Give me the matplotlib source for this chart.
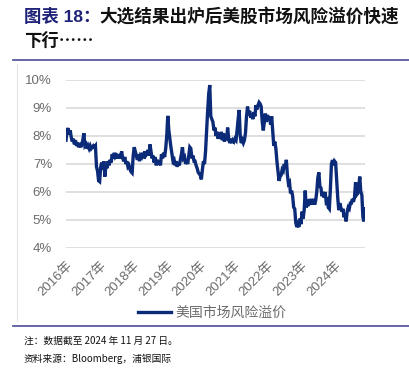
import numpy as np
import pandas as pd
import matplotlib
matplotlib.use("Agg")
import matplotlib.pyplot as plt
from matplotlib.lines import Line2D

plt.rcParams['font.family'] = ['Liberation Sans', 'Noto Sans CJK SC', 'DejaVu Sans']

# -----------------------------------------------------------------------------
# Data: US equity risk premium (%), evenly spaced per year
# -----------------------------------------------------------------------------

erp_2016 = [7.85, 8.2, 8.28, 8.05, 8.2, 7.95, 7.8, 7.9, 7.7, 7.85, 7.65, 7.75,
            7.6, 7.75, 7.6, 7.7, 7.85, 8.1, 7.65, 7.7, 7.55, 7.65, 7.55, 7.65,
            7.55, 7.6, 7.65, 7.6, 7.65, 6.9, 6.75, 6.4]
erp_2017 = [6.37, 6.9, 7.05, 6.8, 7.1, 6.55, 6.95, 6.85, 7.1, 6.95, 7.15, 7.05,
            7.35, 7.2, 7.4, 7.25, 7.3, 7.2, 7.35, 7.2, 7.3, 7.45, 7.2, 7.1,
            7.25, 7.0, 7.1, 6.9, 6.95, 6.8, 6.72, 6.68]
erp_2018 = [7.3, 7.6, 7.45, 7.3, 7.15, 7.35, 7.1, 7.3, 7.25, 7.4, 7.2, 7.45,
            7.3, 7.35, 7.5, 7.3, 7.7, 7.45, 7.2, 7.3, 7.05, 7.25, 6.95, 7.15,
            7.0, 7.1, 6.95, 7.35, 7.2, 7.4, 7.25, 7.55]
erp_2019 = [8.0, 8.72, 8.2, 7.9, 7.6, 7.35, 7.1, 7.15, 6.95, 7.1, 6.9, 7.05,
            6.95, 7.15, 7.35, 7.6, 7.2, 7.25, 7.0, 7.15, 7.0, 7.3, 7.6, 7.55,
            7.2, 7.3, 7.1, 7.1, 6.95, 6.85, 6.7, 6.65]
erp_2020 = [6.6, 6.45, 6.8, 7.1, 7.0, 7.45, 8.2, 8.9, 9.5, 9.82, 8.7, 8.6,
            8.5, 8.2, 8.3, 8.0, 8.15, 7.9, 8.1, 7.9, 8.15, 7.85, 8.1, 7.8,
            8.05, 7.85, 8.3, 7.9, 7.75, 7.9, 7.75, 7.85]
erp_2021 = [7.8, 7.9, 7.85, 8.2, 8.6, 8.93, 8.0, 7.75, 7.85, 7.75, 7.85, 8.1,
            8.7, 9.05, 8.75, 8.9, 8.65, 8.8, 8.6, 8.85, 8.7, 9.1, 8.95, 9.1,
            9.2, 9.15, 9.05, 8.5, 8.2, 8.5, 8.8, 8.5]
erp_2022 = [8.75, 8.6, 8.7, 8.4, 8.7, 8.15, 7.65, 7.8, 7.55, 7.1, 6.75, 6.4,
            6.55, 6.6, 6.8, 6.75, 7.0, 6.85, 7.15, 6.6, 6.3, 6.35, 5.95, 6.05,
            5.85, 5.45, 5.4, 4.9, 4.75, 4.85, 4.75, 5.05]
erp_2023 = [4.85, 5.3, 5.05, 5.35, 6.05, 5.45, 5.6, 5.5, 5.75, 5.55, 5.75, 5.55,
            5.75, 5.55, 5.7, 6.0, 6.5, 6.7, 6.2, 6.15, 5.85, 6.0, 5.8, 6.0,
            5.65, 5.7, 5.45, 5.4, 6.1, 7.0, 7.14, 6.95]
erp_2024 = [7.1, 7.05, 6.4, 5.8, 5.35, 5.6, 5.45, 5.3, 5.4, 5.1, 5.2, 4.95,
            5.3, 5.45, 5.4, 5.6, 5.6, 5.75, 5.65, 5.8, 6.35, 5.9, 5.95, 6.15,
            6.55, 6.0, 5.9, 5.1, 4.95, 5.4]

years = [2016, 2017, 2018, 2019, 2020, 2021, 2022, 2023, 2024]
series_by_year = [erp_2016, erp_2017, erp_2018, erp_2019, erp_2020,
                  erp_2021, erp_2022, erp_2023, erp_2024]
last_date = '2024-11-27'

y_ticks = [4, 5, 6, 7, 8, 9, 10]
series_name = '美国市场风险溢价'
title_head = '图表 18：'
title_line1 = '大选结果出炉后美股市场风险溢价快速'
title_line2 = '下行……'
note_text = '注：数据截至 2024 年 11 月 27 日。'
source_text = '资料来源：Bloomberg，浦银国际'


def year_dates(year, n, end=None):
    start = pd.Timestamp(f'{year}-01-01')
    if end is None:
        stop = pd.Timestamp(f'{year + 1}-01-01')
        vals = np.linspace(start.value, stop.value, n, endpoint=False)
    else:
        stop = pd.Timestamp(end)
        vals = np.linspace(start.value, stop.value, n)
    return pd.to_datetime(vals.astype('int64'))


dates = []
values = []
for yr, vals in zip(years, series_by_year):
    end = last_date if yr == years[-1] else None
    dates.extend(year_dates(yr, len(vals), end))
    values.extend(vals)

# -----------------------------------------------------------------------------
# Figure
# -----------------------------------------------------------------------------

W, H = 409, 368
fig = plt.figure(figsize=(W / 100, H / 100), dpi=100)


def fx(px):
    return px / W


def fy(py):
    return 1 - py / H


navy = '#1F2378'
line_color = '#0B2A78'
grid_color = '#D9D9D9'
label_gray = '#6B6B6B'

# title
fig.text(fx(24), fy(17), title_head, color=navy, fontsize=12.5, fontweight='bold',
         family=['Liberation Sans', 'Noto Sans CJK SC'], va='center', ha='left')
fig.text(fx(99), fy(17), title_line1, color='#111111', fontsize=12.7, fontweight='bold',
         family=['Noto Sans CJK SC'], va='center', ha='left')
fig.text(fx(24), fy(42), title_line2, color='#111111', fontsize=12.5, fontweight='bold',
         family=['Noto Sans CJK SC'], va='center', ha='left')

# separators
fig.add_artist(Line2D([fx(13), fx(409)], [fy(60), fy(60)], color='#5B5BA0', lw=1.3))
fig.add_artist(Line2D([fx(13), fx(409)], [fy(326), fy(326)], color='#5B5BA0', lw=1.3))
fig.add_artist(Line2D([fx(17), fx(17)], [fy(64), fy(321)], color='#E6E6E6', lw=0.8))

# plot area
ax = fig.add_axes([fx(66), fy(248), fx(365) - fx(66), fy(80) - fy(248)])
ax.plot(dates, values, color=line_color, lw=2.4, solid_joinstyle='miter',
        label=series_name)

ax.set_ylim(4, 10)
ax.set_xlim(pd.Timestamp('2016-01-01'), pd.Timestamp(last_date))
ax.set_yticks(y_ticks)
ax.set_yticklabels([f'{v}%' for v in y_ticks])
ax.set_xticks([pd.Timestamp(f'{y}-01-01') for y in years])
ax.set_xticklabels([f'{y}年' for y in years], rotation=45, ha='right',
                   va='top', rotation_mode='anchor')
ax.grid(axis='y', color=grid_color, lw=1.2)
ax.set_axisbelow(True)
for s in ax.spines.values():
    s.set_visible(False)
ax.tick_params(axis='both', length=0, labelsize=9.5, labelcolor=label_gray)
ax.tick_params(axis='y', pad=10)
ax.tick_params(axis='x', pad=8)

fig.legend(loc='center', bbox_to_anchor=(fx(212), fy(313)), frameon=False,
           handlelength=2.4, handletextpad=0.3, labelcolor=label_gray,
           prop={'family': ['Noto Sans CJK SC'], 'size': 10})

# footer
fig.text(fx(24), fy(341), note_text, fontsize=7, color='#111111',
         family=['Noto Sans CJK SC'], va='center', ha='left')
fig.text(fx(24), fy(359), source_text, fontsize=7, color='#111111',
         family=['Noto Sans CJK SC'], va='center', ha='left')

fig.savefig('out.png', dpi=100)
